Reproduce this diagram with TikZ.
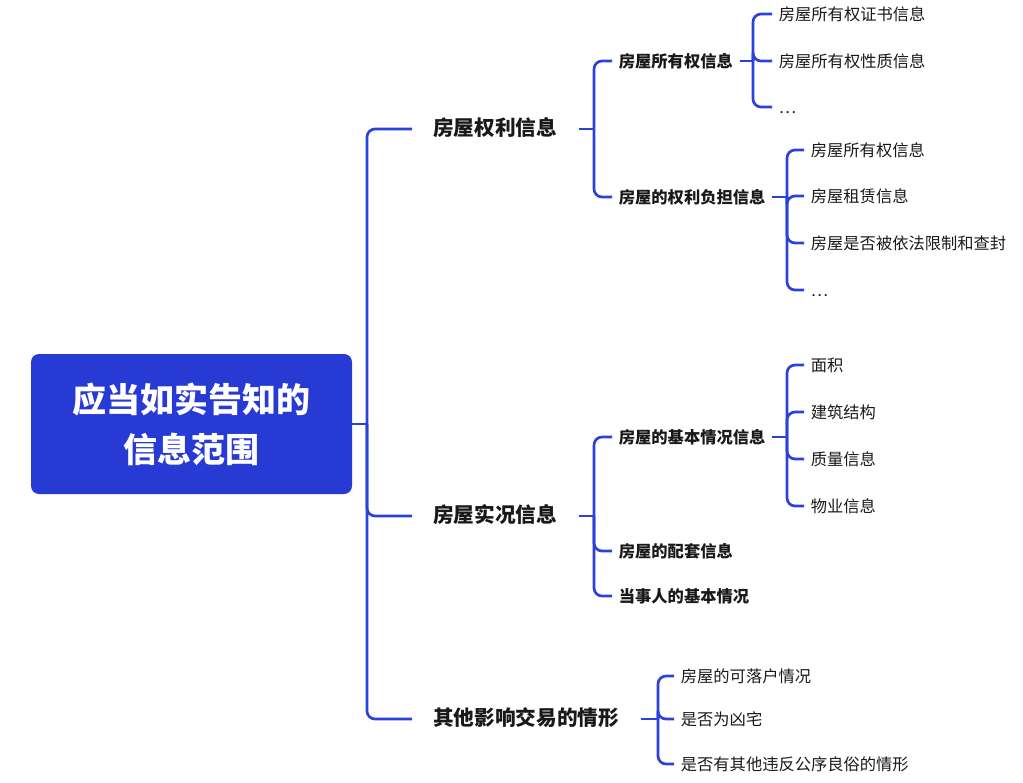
\documentclass[tikz,border=0pt]{standalone}
\usepackage{fontspec}
\setmainfont{Noto Sans CJK SC}
\definecolor{boxblue}{RGB}{40,58,212}
\definecolor{lineblue}{RGB}{44,64,218}
\definecolor{txt}{RGB}{25,25,25}
\begin{document}
\begin{tikzpicture}[x=0.75pt,y=-0.75pt,
  conn/.style={draw=lineblue, line width=2pt, rounded corners=6pt},
  rootbox/.style={fill=boxblue, rounded corners=6pt, minimum width=240.75pt, minimum height=105pt, align=center, text=white, font=\fontsize{25.5}{37.5}\selectfont\bfseries},
  lone/.style={anchor=west, inner xsep=15.75pt, inner ysep=0pt, text=txt, font=\fontsize{15.5}{18}\selectfont\bfseries, text height=1em, text depth=0em},
  ltwo/.style={anchor=west, inner xsep=5pt, inner ysep=0pt, text=txt, font=\fontsize{12.2}{14}\selectfont\bfseries, text height=1em, text depth=0em},
  lthree/.style={anchor=west, inner xsep=5pt, inner ysep=0pt, text=txt, font=\fontsize{12.2}{14}\selectfont, text height=1em, text depth=0em}
]
\useasboundingbox (0,0) rectangle (1023,782);

% root
\node[rootbox] (root) at (191.5,424) {应当如实告知的\\信息范围};
\coordinate (j0) at (367,424);

% level 1
\node[lone] (a) at (412,129) {房屋权利信息};
\node[lone] (b) at (412,516) {房屋实况信息};
\node[lone] (c) at (412,719) {其他影响交易的情形};

\draw[conn] (root.east) -- (j0);
\draw[conn] (j0) |- (a.west);
\draw[conn] (j0) |- (b.west);
\draw[conn] (j0) |- (c.west);

% branch a
\coordinate (ja) at (594,129);
\node[ltwo] (a1) at (612,61) {房屋所有权信息};
\node[ltwo] (a2) at (612,197) {房屋的权利负担信息};
\draw[conn] (a.east) -- (ja);
\draw[conn] (ja) |- (a1.west);
\draw[conn] (ja) |- (a2.west);

\coordinate (ja1) at (753,61);
\node[lthree] (a11) at (772,14) {房屋所有权证书信息};
\node[lthree] (a12) at (772,61) {房屋所有权性质信息};
\node[lthree] (a13) at (772,107) {…};
\draw[conn] (a1.east) -- (ja1);
\draw[conn] (ja1) |- (a11.west);
\draw[conn] (ja1) |- (a12.west);
\draw[conn] (ja1) |- (a13.west);

\coordinate (ja2) at (787,197);
\node[lthree] (a21) at (804,150) {房屋所有权信息};
\node[lthree] (a22) at (804,196) {房屋租赁信息};
\node[lthree] (a23) at (804,243) {房屋是否被依法限制和查封};
\node[lthree] (a24) at (804,290) {…};
\draw[conn] (a2.east) -- (ja2);
\draw[conn] (ja2) |- (a21.west);
\draw[conn] (ja2) |- (a22.west);
\draw[conn] (ja2) |- (a23.west);
\draw[conn] (ja2) |- (a24.west);

% branch b
\coordinate (jb) at (594,516);
\node[ltwo] (b1) at (612,437) {房屋的基本情况信息};
\node[ltwo] (b2) at (612,551) {房屋的配套信息};
\node[ltwo] (b3) at (612,596) {当事人的基本情况};
\draw[conn] (b.east) -- (jb);
\draw[conn] (jb) |- (b1.west);
\draw[conn] (jb) |- (b2.west);
\draw[conn] (jb) |- (b3.west);

\coordinate (jb1) at (787,437);
\node[lthree] (b11) at (804,365) {面积};
\node[lthree] (b12) at (804,412) {建筑结构};
\node[lthree] (b13) at (804,459) {质量信息};
\node[lthree] (b14) at (804,506) {物业信息};
\draw[conn] (b1.east) -- (jb1);
\draw[conn] (jb1) |- (b11.west);
\draw[conn] (jb1) |- (b12.west);
\draw[conn] (jb1) |- (b13.west);
\draw[conn] (jb1) |- (b14.west);

% branch c
\coordinate (jc) at (658,719);
\node[lthree] (c1) at (674,676) {房屋的可落户情况};
\node[lthree] (c2) at (674,719) {是否为凶宅};
\node[lthree] (c3) at (674,764) {是否有其他违反公序良俗的情形};
\draw[conn] (c.east) -- (jc);
\draw[conn] (jc) |- (c1.west);
\draw[conn] (jc) |- (c2.west);
\draw[conn] (jc) |- (c3.west);
\end{tikzpicture}
\end{document}
